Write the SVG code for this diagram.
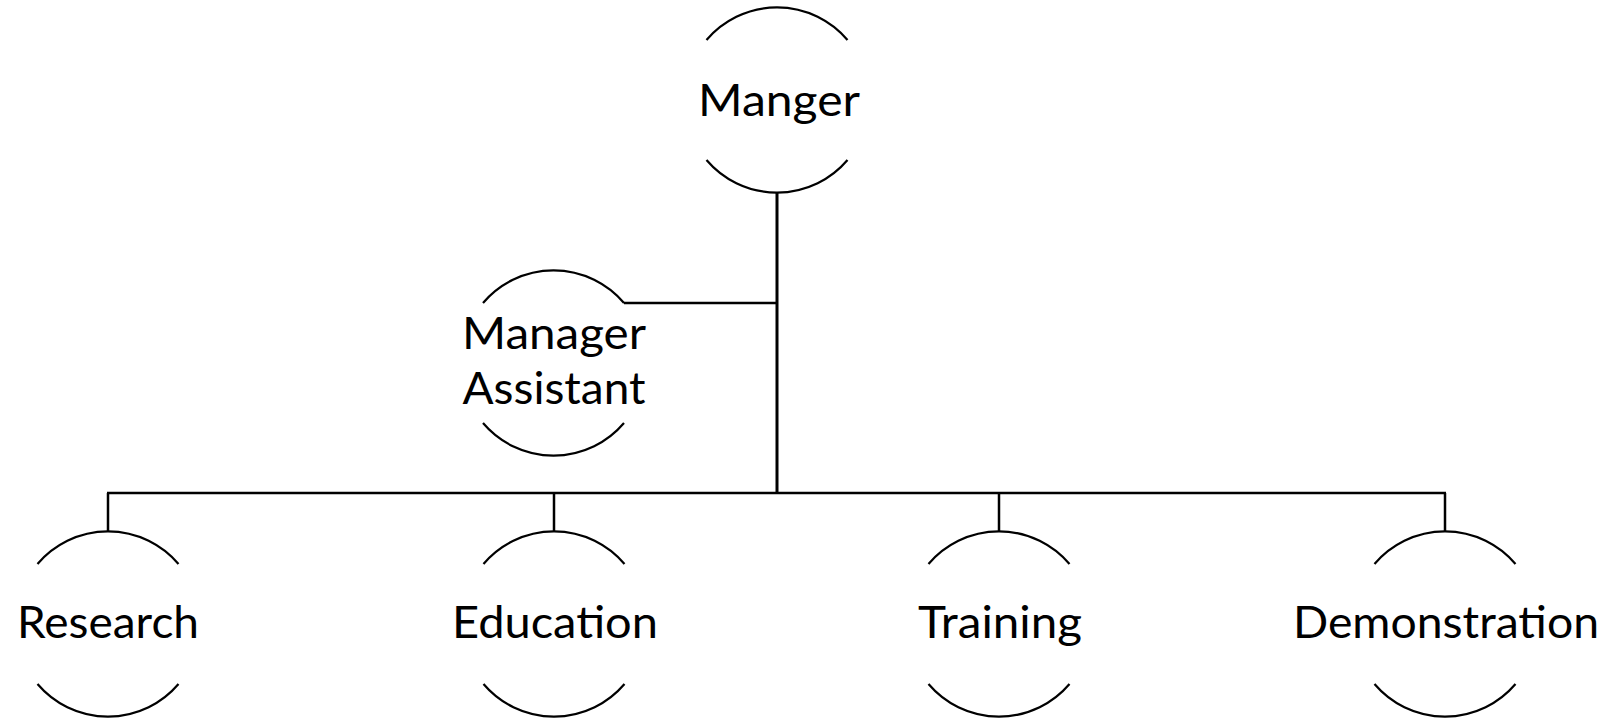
<svg xmlns="http://www.w3.org/2000/svg" width="1609" height="718" viewBox="0 0 1609 718">
<style>
.arc{fill:none;stroke:#000;stroke-width:2.2}
.con{fill:none;stroke:#000;stroke-width:2.5}
.lbl{font-family:Lato,"Open Sans","Liberation Sans",sans-serif;font-size:45px;fill:#000;text-anchor:middle}
</style>
<rect width="1609" height="718" fill="#fff"/>
<g id="connectors">
<line class="con" x1="777" y1="192" x2="777" y2="494" style="stroke-width:3"/>
<line class="con" x1="624" y1="303" x2="777" y2="303"/>
<line class="con" x1="107" y1="493" x2="1446" y2="493"/>
<line class="con" x1="108" y1="493" x2="108" y2="532"/>
<line class="con" x1="554" y1="493" x2="554" y2="532"/>
<line class="con" x1="999" y1="493" x2="999" y2="532"/>
<line class="con" x1="1445" y1="493" x2="1445" y2="532"/>
</g>
<g id="manger">
<path class="arc" d="M706.5 40 A92.5 92.5 0 0 1 847.5 40"/>
<path class="arc" d="M706.5 160 A92.5 92.5 0 0 0 847.5 160"/>
<text class="lbl" x="779" y="116" textLength="162" lengthAdjust="spacingAndGlyphs">Manger</text>
</g>
<g id="manager-assistant">
<path class="arc" d="M483 303 A92.5 92.5 0 0 1 624 303"/>
<path class="arc" d="M483 423 A92.5 92.5 0 0 0 624 423"/>
<text class="lbl" x="554" y="349" textLength="184" lengthAdjust="spacingAndGlyphs">Manager</text>
<text class="lbl" x="554" y="404" textLength="183" lengthAdjust="spacingAndGlyphs">Assistant</text>
</g>
<g id="research">
<path class="arc" d="M37.5 564 A92.5 92.5 0 0 1 178.5 564"/>
<path class="arc" d="M37.5 684 A92.5 92.5 0 0 0 178.5 684"/>
<text class="lbl" x="108" y="638" textLength="182" lengthAdjust="spacingAndGlyphs">Research</text>
</g>
<g id="education">
<path class="arc" d="M483.5 564 A92.5 92.5 0 0 1 624.5 564"/>
<path class="arc" d="M483.5 684 A92.5 92.5 0 0 0 624.5 684"/>
<text class="lbl" x="555" y="638" textLength="206" lengthAdjust="spacingAndGlyphs">Education</text>
</g>
<g id="training">
<path class="arc" d="M928.5 564 A92.5 92.5 0 0 1 1069.5 564"/>
<path class="arc" d="M928.5 684 A92.5 92.5 0 0 0 1069.5 684"/>
<text class="lbl" x="1000" y="638" textLength="164" lengthAdjust="spacingAndGlyphs">Training</text>
</g>
<g id="demonstration">
<path class="arc" d="M1374.5 564 A92.5 92.5 0 0 1 1515.5 564"/>
<path class="arc" d="M1374.5 684 A92.5 92.5 0 0 0 1515.5 684"/>
<text class="lbl" x="1446" y="638" textLength="306" lengthAdjust="spacingAndGlyphs">Demonstration</text>
</g>
</svg>
